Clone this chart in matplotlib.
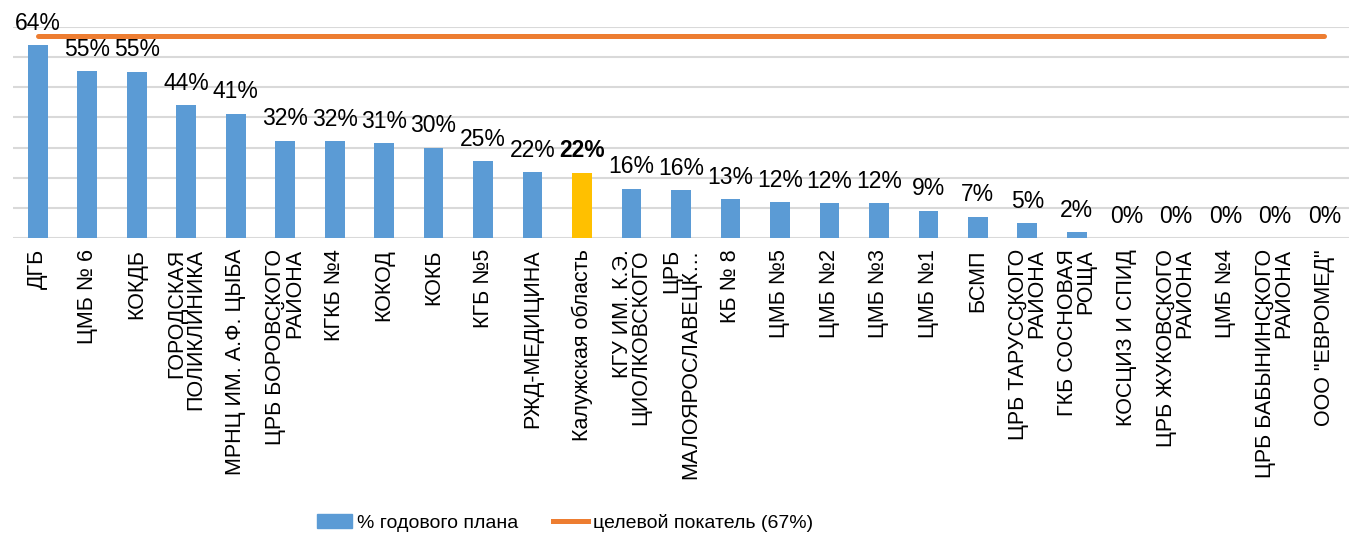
import matplotlib
matplotlib.use("Agg")
import matplotlib.pyplot as plt
from matplotlib.patches import Patch
from matplotlib.lines import Line2D

plt.rcParams['font.family'] = ['Liberation Sans', 'DejaVu Sans']

# organisations (x axis), in chart order
names = [
    "ДГБ", "ЦМБ № 6", "КОКДБ", "ГОРОДСКАЯ\nПОЛИКЛИНИКА", "МРНЦ ИМ. А.Ф. ЦЫБА",
    "ЦРБ БОРОВСКОГО\nРАЙОНА", "КГКБ №4", "КОКОД", "КОКБ", "КГБ №5",
    "РЖД-МЕДИЦИНА", "Калужская область", "КГУ ИМ. К.Э.\nЦИОЛКОВСКОГО",
    "ЦРБ\nМАЛОЯРОСЛАВЕЦК…", "КБ № 8", "ЦМБ №5", "ЦМБ №2", "ЦМБ №3", "ЦМБ №1",
    "БСМП", "ЦРБ ТАРУССКОГО\nРАЙОНА", "ГКБ СОСНОВАЯ\nРОЩА", "КОСЦИЗ И СПИД",
    "ЦРБ ЖУКОВСКОГО\nРАЙОНА", "ЦМБ №4", "ЦРБ БАБЫНИНСКОГО\nРАЙОНА", "ООО \"ЕВРОМЕД\"",
]
# % of annual plan
plan_pct = [64.0, 55.3, 55.2, 44.1, 41.3, 32.3, 32.2, 31.4, 29.9, 25.4,
            21.8, 21.7, 16.3, 15.8, 12.8, 11.9, 11.6, 11.6, 9.1,
            7.0, 4.9, 2.0, 0, 0, 0, 0, 0]
target = 67
region_name = "Калужская область"

blue = "#5B9BD5"
gold = "#FFC000"
orange = "#ED7D31"

fig = plt.figure(figsize=(13.49, 5.37), dpi=100)
ax = fig.add_axes([13 / 1349, 1 - 238 / 537, 1 - 13 / 1349, (238 - 27) / 537])

x = list(range(len(names)))
colors = [gold if n == region_name else blue for n in names]
ax.bar(x, plan_pct, width=0.4, color=colors, zorder=2)
ax.plot(x, [target] * len(x), color=orange, linewidth=3.6,
        solid_capstyle='round', zorder=3)

for xi, v, n in zip(x, plan_pct, names):
    ax.annotate(f"{v:.0f}%", (xi, v), xytext=(0, 7.5), textcoords='offset points',
                ha='center', va='bottom', fontsize=16.5,
                fontweight='bold' if n == region_name else 'normal')

ax.set_xlim(-0.5, len(names) - 0.5)
ax.set_ylim(0, 70)
ax.set_yticks(range(0, 71, 10))
ax.yaxis.grid(True, color="#D9D9D9", linewidth=1.5, zorder=0)
ax.tick_params(axis='y', left=False, labelleft=False)
ax.tick_params(axis='x', length=0, pad=8)
ax.set_xticks(x)
ax.set_xticklabels(names, rotation=90, ha='center', va='top',
                   multialignment='right', fontsize=15.5, linespacing=0.85)
for s in ax.spines.values():
    s.set_visible(False)

handles = [Patch(color=blue), Line2D([0], [0], color=orange, linewidth=3.6)]
fig.legend(handles, ["% годового плана", "целевой покатель (67%)"],
           loc='center', bbox_to_anchor=(565 / 1349, 1 - 523 / 537), ncol=2,
           frameon=False, fontsize=14, handlelength=1.8, handleheight=0.7,
           columnspacing=1.8, handletextpad=0.25)

fig.savefig("out.png", dpi=100)
